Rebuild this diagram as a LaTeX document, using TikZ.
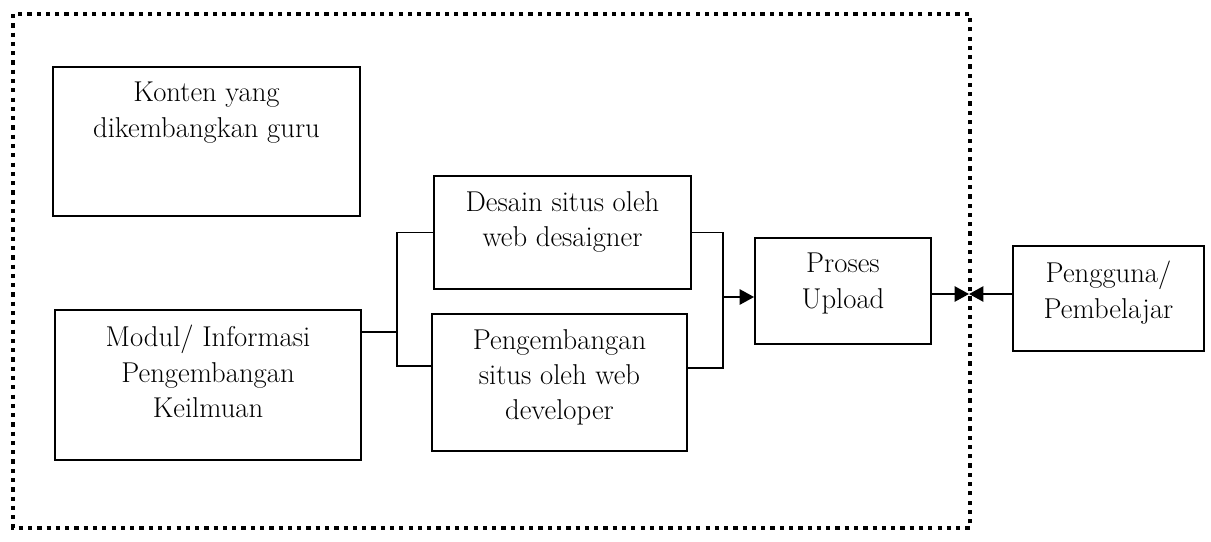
\documentclass[tikz,border=0pt]{standalone}
\usepackage{tikz}
\usetikzlibrary{positioning,arrows.meta}
\tikzset{
    box/.style = {draw, line width=1.3pt, inner sep=0pt},
    txt/.style = {align=center, inner sep=0pt, font=\fontsize{20.4}{25}\selectfont},
    wire/.style = {line width=1.3pt},
    arr/.style = {line width=1.5pt, -{Triangle[length=0.36cm,width=0.38cm]}},
    frame/.style = {line width=3pt, dash pattern=on 3pt off 3.6pt},
}

\begin{document}
\begin{tikzpicture}[x=0.025cm,y=-0.025cm]
    \useasboundingbox (0,0) rectangle (1211,541);
    \draw[frame] (13,14) rectangle (970,528);

    \node (konten) at (206.5,141.5) [box, minimum width=307*0.025cm, minimum height=149*0.025cm] {};
    \node (modul) at (208,385) [box, minimum width=306*0.025cm, minimum height=150*0.025cm] {};
    \node (desain) at (562.5,232.5) [box, minimum width=257*0.025cm, minimum height=113*0.025cm] {};
    \node (dev) at (559.5,382.5) [box, minimum width=255*0.025cm, minimum height=137*0.025cm] {};
    \node (proses) at (843,291) [box, minimum width=176*0.025cm, minimum height=106*0.025cm] {};
    \node (pengguna) at (1108.5,298.5) [box, minimum width=191*0.025cm, minimum height=105*0.025cm] {};

    \node (kontenT) [txt, below=0.4cm of konten.north] {Konten yang\\dikembangkan guru};
    \node (modulT) [txt, below=0.4cm of modul.north] {Modul/ Informasi\\Pengembangan\\Keilmuan};
    \node (desainT) [txt, below=0.4cm of desain.north] {Desain situs oleh\\web desaigner};
    \node (devT) [txt, below=0.4cm of dev.north] {Pengembangan\\situs oleh web\\developer};
    \node (prosesT) [txt, below=0.4cm of proses.north] {Proses\\Upload};
    \node (penggunaT) [txt, below=0.4cm of pengguna.north] {Pengguna/\\Pembelajar};

    \coordinate (jL) at (397,332);
    \coordinate (jLb) at (397,366);
    \coordinate (jR) at (723,297);
    \coordinate (jRb) at (723,368);
    \coordinate (gate) at (969,294);

    \draw[wire] (modul.east |- jL) -- (jL);
    \draw[wire] (desain.west) -| (jLb) -- (dev.west |- jLb);
    \draw[wire] (desain.east) -| (jRb) -- (dev.east |- jRb);
    \draw[arr] (jR) -- (proses.west |- jR);
    \draw[arr] (proses.east |- gate) -- (gate);
    \draw[arr] (pengguna.west |- gate) -- (gate);
\end{tikzpicture}
\end{document}
